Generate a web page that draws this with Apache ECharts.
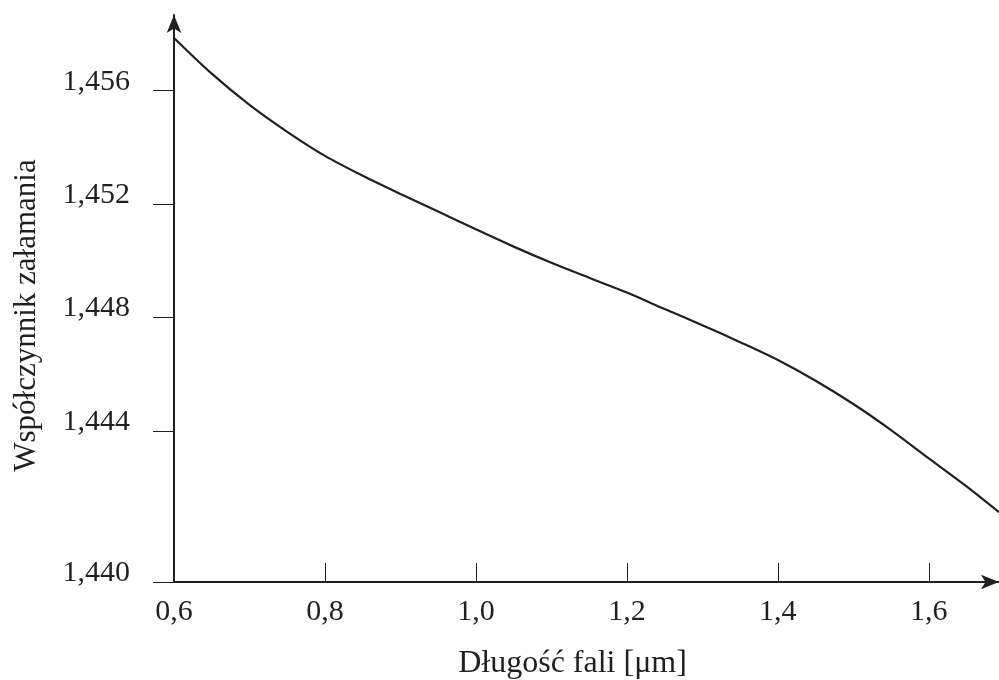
<!DOCTYPE html>
<html>
<head>
<meta charset="utf-8">
<script src="https://cdn.jsdelivr.net/npm/echarts@6/dist/echarts.min.js"></script>
<style>
html,body{margin:0;padding:0;background:#fff;}
#chart{width:999px;height:680px;}
</style>
</head>
<body>
<div id="chart"></div>
<script>
// Wavelength [µm]
const wavelength = [0.60, 0.65, 0.70, 0.75, 0.80, 0.85, 0.90, 0.95, 1.00, 1.05, 1.10, 1.15,
                    1.20, 1.25, 1.30, 1.35, 1.40, 1.45, 1.50, 1.55, 1.60, 1.65, 1.693];
// Refractive index
const refIndex = [1.45786, 1.45660, 1.45550, 1.45455, 1.45370, 1.45300, 1.45236, 1.45174,
                  1.45111, 1.45050, 1.44993, 1.44940, 1.44888, 1.44830, 1.44773, 1.44713,
                  1.44650, 1.44577, 1.44495, 1.44403, 1.44303, 1.44204, 1.44113];
// Axis ticks and labels
const xLabelValues = [0.6, 0.8, 1.0, 1.2, 1.4, 1.6];
const xTickValues = [0.8, 1.0, 1.2, 1.4, 1.6];
const xLabels = ['0,6', '0,8', '1,0', '1,2', '1,4', '1,6'];
const yTickValues = [1.43867, 1.444, 1.448, 1.452, 1.456];
const yLabels = ['1,440', '1,444', '1,448', '1,452', '1,456'];
const xMin = 0.6, xMax = 1.693;
const yMin = 1.43867, yMax = 1.45867;

const ink = '#231f20';
const font = 'Liberation Serif';

const chart = echarts.init(document.getElementById('chart'), null, {renderer: 'canvas'});
chart.setOption({
  animation: false,
  backgroundColor: '#fff',
  grid: {left: 174, right: 0, top: 15, bottom: 98, containLabel: false, outerBoundsMode: 'none'},
  xAxis: {
    type: 'value', min: xMin, max: xMax,
    name: 'Długość fali [μm]', nameLocation: 'middle', nameGap: 66,
    nameTextStyle: {fontFamily: font, fontSize: 32, color: ink, padding: [0, 28, 0, 0]},
    axisLine: {show: true, lineStyle: {color: ink, width: 2},
      symbol: ['none', 'arrow'], symbolSize: [11, 18], symbolOffset: [0, 0]},
    axisTick: {show: true, inside: true, length: 19, lineStyle: {color: ink, width: 1},
      customValues: xTickValues},
    axisLabel: {show: true, margin: 15, fontFamily: font, fontSize: 30, color: ink,
      customValues: xLabelValues,
      formatter: v => { const i = xLabelValues.findIndex(t => Math.abs(t - v) < 1e-6); return i >= 0 ? xLabels[i] : ''; }},
    splitLine: {show: false}
  },
  yAxis: {
    type: 'value', min: yMin, max: yMax,
    name: 'Współczynnik załamania', nameLocation: 'middle', nameGap: 132,
    nameTextStyle: {fontFamily: font, fontSize: 31, color: ink, padding: [0, 34, 0, 0]},
    axisLine: {show: true, lineStyle: {color: ink, width: 2},
      symbol: ['none', 'arrow'], symbolSize: [11, 18], symbolOffset: [0, 0]},
    axisTick: {show: true, inside: false, length: 21, lineStyle: {color: ink, width: 1},
      customValues: yTickValues},
    axisLabel: {show: true, margin: 44, fontFamily: font, fontSize: 30, color: ink,
      verticalAlign: 'bottom', lineHeight: 18,
      customValues: yTickValues,
      formatter: v => { const i = yTickValues.findIndex(t => Math.abs(t - v) < 1e-7); return i >= 0 ? yLabels[i] : ''; }},
    splitLine: {show: false}
  },
  series: [{
    type: 'line',
    data: wavelength.map((w, i) => [w, refIndex[i]]),
    smooth: 0.3,
    showSymbol: false,
    clip: true,
    lineStyle: {color: ink, width: 2.2}
  }]
});
</script>
</body>
</html>
